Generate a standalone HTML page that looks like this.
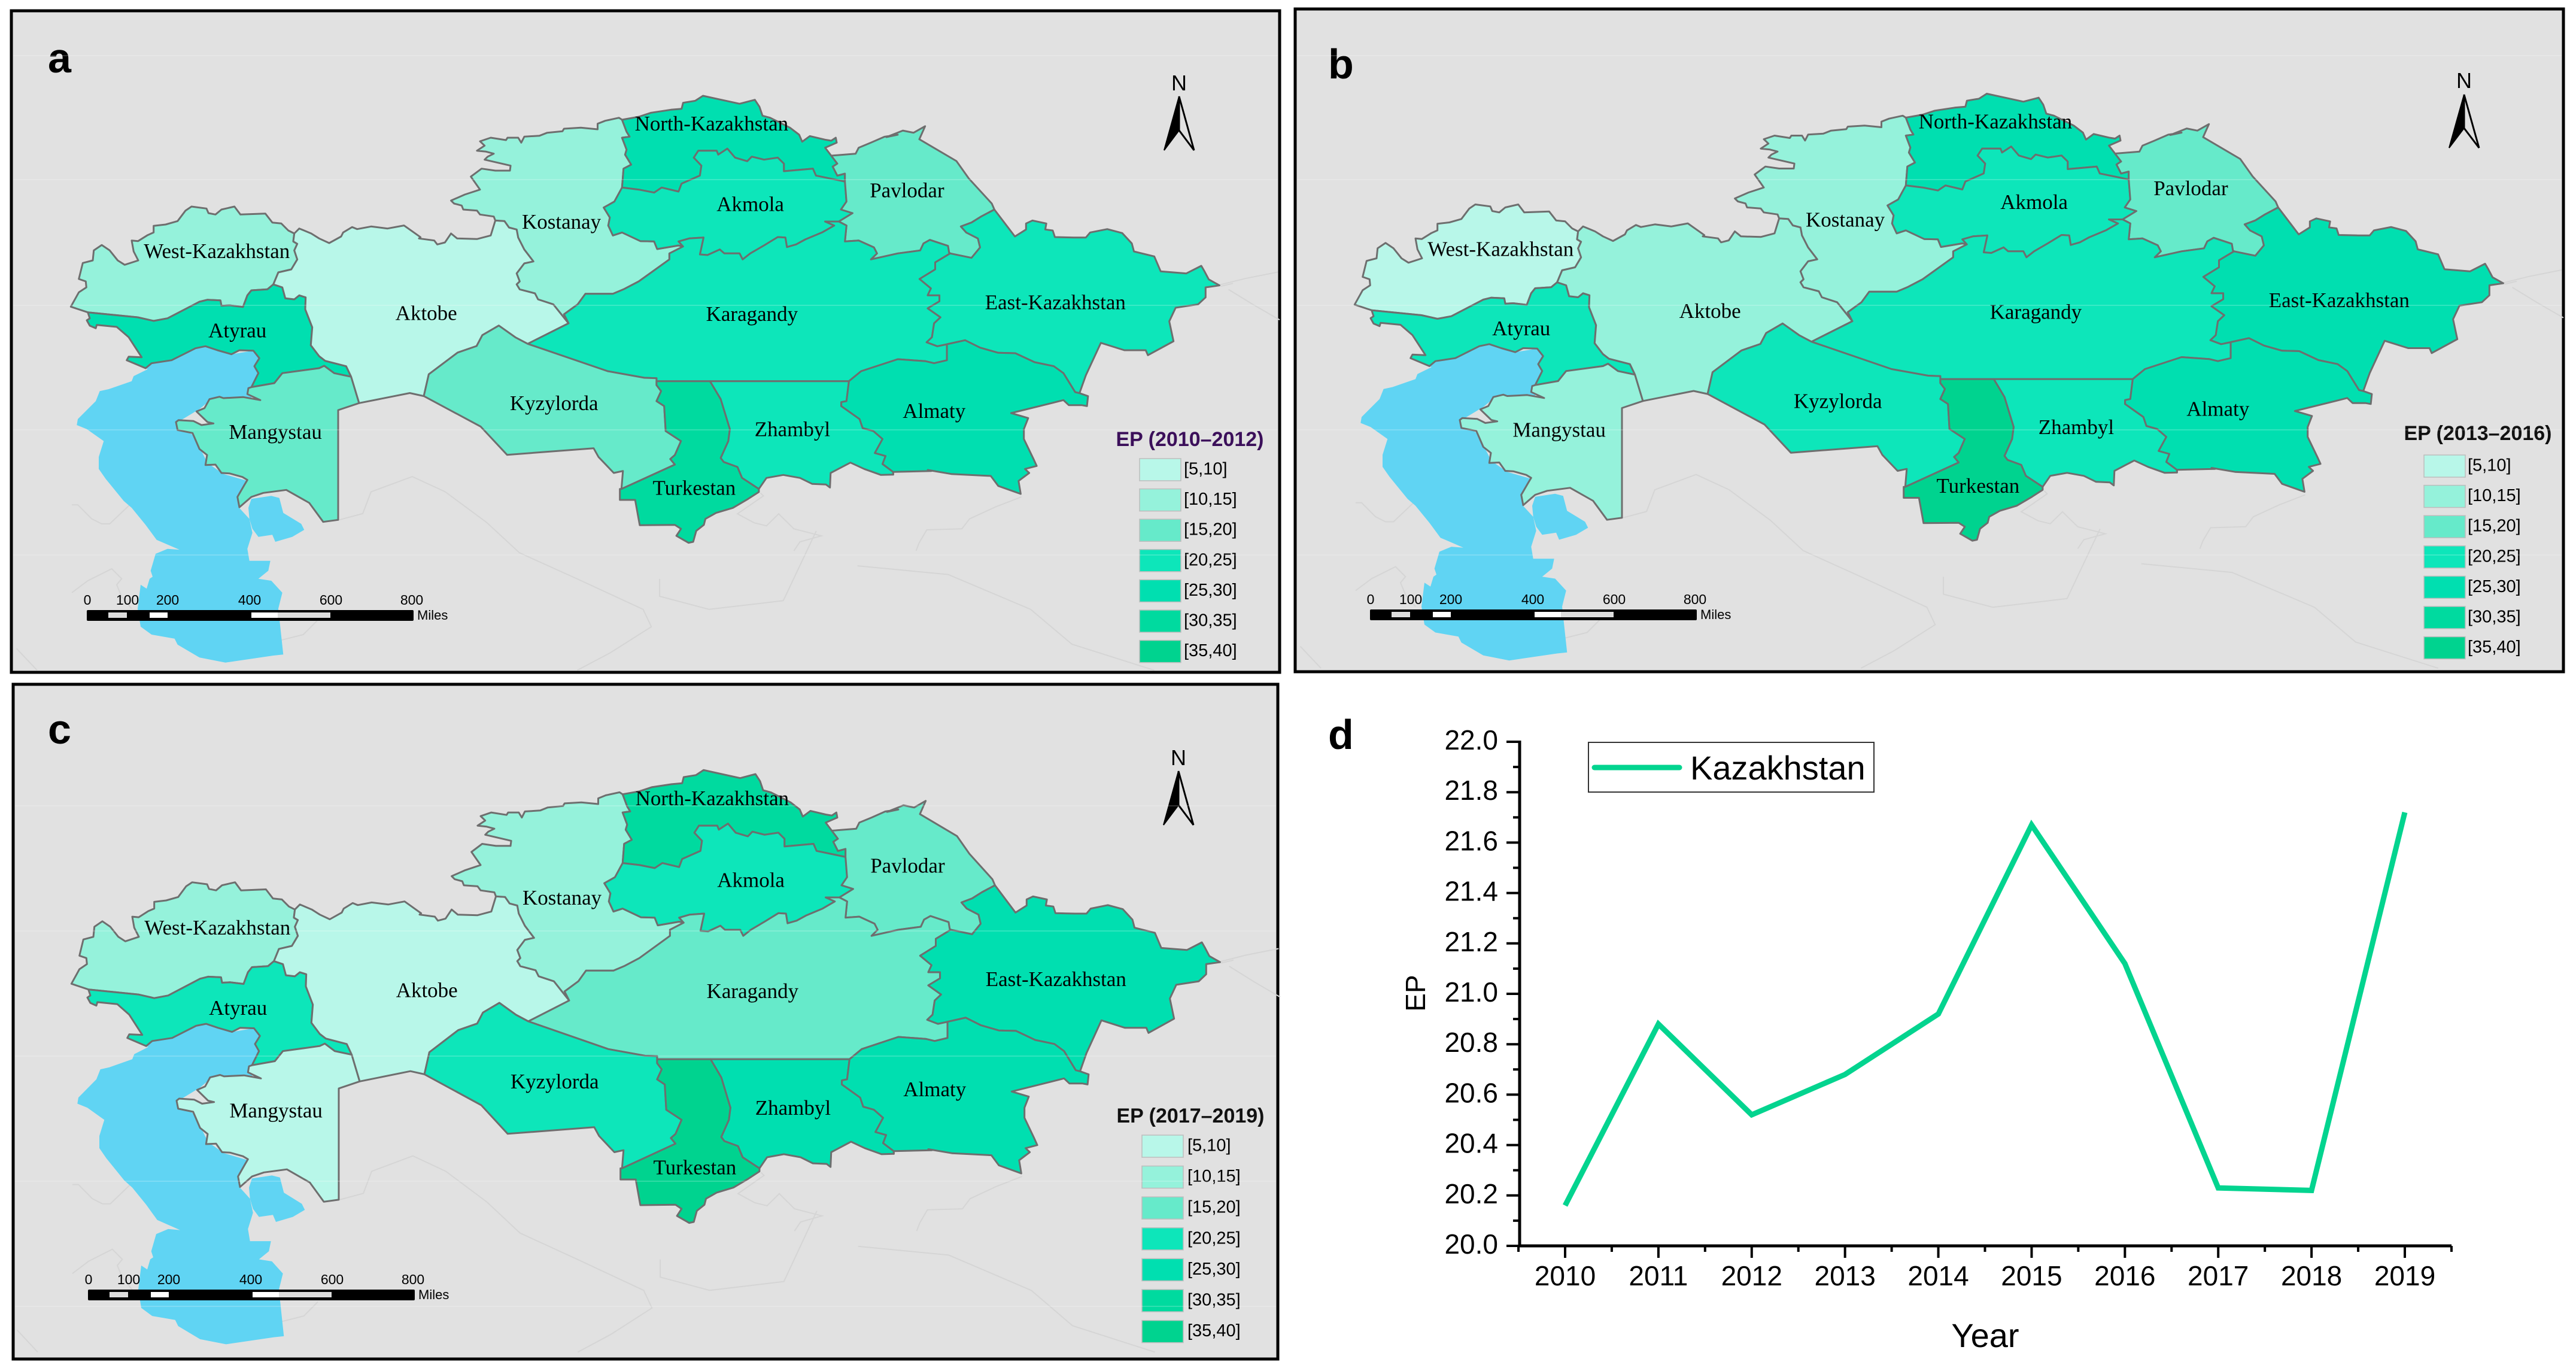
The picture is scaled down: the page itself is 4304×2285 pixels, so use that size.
<!DOCTYPE html>
<html lang="en">
<head>
<meta charset="utf-8">
<title>Kazakhstan EP maps and trend</title>
<style>
html,body{margin:0;padding:0;background:#fff;}
svg{display:block;}
text{font-family:"Liberation Sans",sans-serif;}
.map-label{font-family:"Liberation Serif",serif;font-size:35px;fill:#000;}
</style>
</head>
<body>
<svg id="figure" xmlns="http://www.w3.org/2000/svg" width="4304" height="2285" viewBox="0 0 4304 2285">
  <rect x="0" y="0" width="4304" height="2285" fill="#ffffff"/>
</svg>
<script>
// ---------- Chart data (panel d) ----------
const years = [2010, 2011, 2012, 2013, 2014, 2015, 2016, 2017, 2018, 2019];
const epSeries = [20.16, 20.88, 20.52, 20.68, 20.92, 21.67, 21.12, 20.23, 20.22, 21.72];
const yTicks = [20.0, 20.2, 20.4, 20.6, 20.8, 21.0, 21.2, 21.4, 21.6, 21.8, 22.0];
const seriesName = 'Kazakhstan';

// ---------- Choropleth data (panels a, b, c) ----------
const regionNames = ['West-Kazakhstan','Atyrau','Mangystau','Aktobe','Kostanay','North-Kazakhstan','Akmola','Pavlodar','Karagandy','East-Kazakhstan','Kyzylorda','Zhambyl','Almaty','Turkestan'];
const epPeriodA = [12, 27, 17, 8, 12, 27, 22, 17, 22, 22, 17, 22, 27, 32];
const epPeriodB = [8, 22, 12, 12, 12, 27, 22, 17, 22, 27, 22, 22, 27, 37];
const epPeriodC = [12, 22, 8, 8, 12, 32, 22, 17, 17, 27, 22, 27, 27, 37];
const classLimits = [5, 10, 15, 20, 25, 30, 35, 40];
const classColors = ['#b8f7e9', '#95f2db', '#66eaca', '#0de6ba', '#00dfb0', '#00da9f', '#00d38f'];
const classLabels = ['[5,10]', '[10,15]', '[15,20]', '[20,25]', '[25,30]', '[30,35]', '[35,40]'];
const scaleLabels = ['0', '100', '200', '400', '600', '800'];

// ---------- Base map geometry: shared border arcs traced in panel-a pixels ----------
function tr(fx, fy, a) { const o = []; for (let i = 0; i < a.length; i += 2) o.push(fx(a[i]), fy(a[i + 1])); return o; }
const A = function (a) { return tr(function (x) { return 100 + x / 3; }, function (y) { return 320 + y / 3; }, a); };
const B = function (a) { return tr(function (x) { return 1500 + x / 2.8; }, function (y) { return 340 + y / 3; }, a); };
const C = function (a) { return tr(function (x) { return 120 + x / 3; }, function (y) { return 600 + y / 3; }, a); };
const D = function (a) { return tr(function (x) { return 1000 + x / 1.96; }, function (y) { return 620 + y / 3; }, a); };
const E = function (a) { return tr(function (x) { return 700 + x / 1.96; }, function (y) { return 150 + y / 3; }, a); };
const Z = function (a) { return tr(function (x) { return x * 1.3776; }, function (y) { return y * 0.727; }, a); };
function rev(a) { const o = []; for (let i = a.length - 2; i >= 0; i -= 2) o.push(a[i], a[i + 1]); return o; }

const wN = A([55,577,95,505,133,480,130,450,95,438,115,358,165,345,170,295,210,268,250,295,290,345,325,367,393,345,370,300,360,245,392,248,440,218,470,205,470,172,530,165,590,148,630,95,660,75,735,85,745,108,780,115,810,90,875,75,905,115,1030,110,1065,155,1110,160,1145,195,1175,210]);
const wAk = A([1175,210,1170,250,1190,262,1175,295,1190,340,1160,390,1095,405,1070,465]);
const wAt = A([1070,465,1040,490,960,495,940,520,918,578,850,570,810,572,805,545,740,542,700,552,540,635,470,648,390,630,140,605]);
const w0 = A([140,605,55,577]);
const atCoast = A([140,605,150,635,135,645,150,672,180,685,185,668,285,678,345,730,410,830,345,827,335,845,430,885,460,860,560,845,680,785,730,775,790,795,860,815,900,795,970,797,1000,835,975,875,995,910,960,980]);
const atMang = A([960,980,1075,960,1115,910,1300,885,1325,873,1375,910,1460,928]);
const atAk = A([1070,465,1115,480,1130,535,1175,540,1200,520,1232,530,1230,590,1265,680,1258,770,1300,825,1330,848,1435,875,1460,928]);
const mangEdge = A([1460,928,1500,1060]);
const mangRest = C([1335,255,1335,805,1260,815,1190,720,1075,655,960,670,900,690,840,742,830,690,865,630,880,605,855,590,790,572,750,570,720,528,670,530,678,480,640,450,605,370,530,355,522,315,535,305,610,310,650,330,710,322,680,315,625,262,665,245,690,200,740,188,760,195,860,190,945,205,880,175,885,145]);
const akN = A([1175,210,1200,185,1260,210,1300,235,1350,258,1410,225,1420,205,1465,178,1490,188,1560,175]).concat(Z([470,525,490,518,510,545]), E([0,745,50,755,60,775,85,765,105,720,125,745,190,748,235,730,250,655]));
const akKo = E([250,655,280,658,295,690,320,700,325,740,345,800,375,860,345,870,320,920,330,960,320,975,330,1000,380,1020,390,1050,440,1075,490,1170]);
const akKa = E([490,1170]).concat(Z([640,790]));
const akKy = Z([640,790,625,775,605,748,585,770,578,795,555,810,520,860,514,910]);
const akS = Z([514,910,497,903]);
const kN = E([665,150,655,140,610,155,585,170,585,198,530,190,475,195,470,208,420,215,395,230,345,235,335,265,325,240,290,240,285,252,235,240,200,258,215,280,190,305,220,310,245,320,225,335,215,350,300,380,298,405,250,405,205,395,170,435,200,500,150,525,105,555,115,570,140,580,145,600,190,605,200,625,245,635,250,655]);
const koNK = E([665,150,680,210,690,235,665,240,680,300,675,325,695,375,670,395,665,490]);
const koAkm = E([665,490,640,560,605,590,625,640,620,680,635,730,665,715,725,758,770,760,780,798,850,780,865,785]);
const koKa = E([865,785,820,820,820,850,720,960,670,1000,635,1022,545,1022,520,1075,475,1125,490,1170]);
const nkN1 = E([665,150,720,135,760,115,825,100,860,95,865,65,905,55,930,30,960,40,1050,70,1100,50,1115,85,1125,130,1150,140,1215,190,1245,225,1255,260,1280,232,1330,250,1350,255,1365,240,1368,265,1330,290,1350,330]);
const pavNK = E([1350,330,1370,370,1355,385,1370,430,1395,420,1395,460]);
const nkAk = E([665,490,720,500,770,515,795,490,850,510,860,470,920,430,925,380,900,340,915,305,975,305,980,325,1010,295,1035,340,1075,358,1090,335,1130,350,1175,340,1195,370,1195,408,1290,395,1300,430,1395,460]);
const akmE = E([1395,460,1400,560,1382,600,1420,618,1375,660]);
const akmKa = E([1375,660,1330,660,1360,680,1320,715,1265,750,1235,775,1205,788,1200,740,1175,738,1130,780,1085,820,1060,850,1050,820,1000,820,985,800,945,828,920,825,932,740,885,745,850,760,865,785]);
const kaPav = E([1375,660,1400,680,1395,760,1440,755,1490,790,1500,820,1480,850]).concat(B([0,250,105,235,120,200,150,182,235,212,240,245,245,250]));
const pavN = E([1350,330,1430,320,1440,290,1480,265,1525,235,1568,225]).concat(Z([1075,315,1095,300,1108,305,1122,290,1115,320,1160,370,1175,410]), B([440,0,452,30]));
const pavEa = B([452,30,390,65,345,95,295,115,320,145,375,175,385,220,345,272,245,250]);
const eaN = B([452,30,548,165,600,130,600,100,630,85,695,100,690,130,725,135,735,168,825,170,880,170,900,145,980,128,1050,148,1095,200,1105,240,1200,265,1230,340,1350,350,1420,312,1435,340,1455,380,1505,410,1440,420,1440,470,1405,505,1300,522,1270,590,1290,690,1170,760,1160,735,1060,735,950,698,880,860,850,950]);
const eaAl = B([850,950,830,945,775,850,730,815,640,795,550,750,470,748,385,722,315,685,230,705]);
const eaKa = B([245,250,175,295,175,330,102,378,155,425,140,460,195,460,195,490,140,525,200,570,170,600,160,670,135,695,185,715,230,705]);
const kaAl = B([230,705,230,785,170,800,130,790,0,780]).concat(D([860,0,820,50]));
const kyKa = Z([640,790]).concat(D([30,0,150,33,190,35,190,50]));
const segTu = D([190,50,365,50]);
const segZh = D([365,50,820,50]);
const kyTu = D([190,50,190,70,205,100,190,150,215,175,220,300,270,350,250,420,235,440,250,468,75,590]);
const kyS = D([75,590,80,500,50,510,0,430]).concat(Z([720,1030,615,1045,583,980,514,910]));
const tuZh = D([365,50,400,140,430,290,425,350,400,435,410,455,455,480,470,535,525,590]);
const tuS = D([525,590,525,605,490,640,440,685,385,710,350,740,345,770,320,800,310,855,295,860,255,825,270,790,250,770,135,772,120,645,70,645,70,590,75,590]);
const zhS = D([525,590,550,535,605,520,660,535,700,565,745,568,758,583,760,510,825,458,870,490,925,520,965,518]);
const zhAl = D([820,50,812,150,795,155,795,175,855,240,865,285,900,300,930,340,905,410,940,425,930,465,965,505,965,518]);
const alS = B([850,950,890,965,885,1015,860,1010,800,1010,775,985,720,1000,530,1050,610,1075,590,1130,590,1180,635,1280,650,1315,595,1330,615,1350,565,1390,575,1455,470,1415,435,1365,250,1355,140,1335]).concat(D([1090,500,965,505,965,518]));

const outlines = {
 'West-Kazakhstan': wN.concat(wAk, wAt, w0),
 'Atyrau': atCoast.concat(atMang, rev(atAk), wAt),
 'Mangystau': atMang.concat(mangEdge, mangRest),
 'Aktobe': akN.concat(akKo, akKa, akKy, akS, rev(mangEdge), rev(atAk), rev(wAk)),
 'Kostanay': kN.concat(akKo, rev(koKa), rev(koAkm), rev(koNK)),
 'North-Kazakhstan': nkN1.concat(pavNK, rev(nkAk), rev(koNK)),
 'Akmola': nkAk.concat(akmE, akmKa, rev(koAkm)),
 'Pavlodar': rev(pavNK).concat(pavN, pavEa, rev(kaPav), rev(akmE)),
 'Karagandy': koKa.concat(akKa, kyKa, segTu, segZh, rev(kaAl), rev(eaKa), rev(kaPav), akmKa),
 'East-Kazakhstan': eaN.concat(eaAl, rev(eaKa), rev(pavEa)),
 'Kyzylorda': rev(akKy).concat(kyKa, kyTu, kyS),
 'Zhambyl': segZh.concat(zhAl, rev(zhS), rev(tuZh)),
 'Almaty': rev(kaAl).concat(rev(eaAl), alS, rev(zhAl)),
 'Turkestan': segTu.concat(tuZh, tuS, rev(kyTu))
};
const caspianOutline = A([430,885,460,860,560,845,680,785,730,775,860,815,970,797,1000,835,975,875,995,910,960,980]).concat(C([900,200,700,200,640,250,540,310,525,340,610,380,680,520,760,575,880,610,835,740,890,800,905,870,880,950,890,1010,995,1010,985,1060,935,1100,1000,1110,1055,1170,1035,1250,1060,1480,1010,1485,770,1520,640,1495,530,1430,515,1400,400,1380,345,1340,330,1250,345,1130,375,1150,390,1100,405,1090,395,1060,420,975,480,950,540,955,425,905,370,830,300,745,260,710,170,600,135,550,135,490,160,410,75,350,25,330,30,300,120,210,140,160,185,150,300,110,310,85,380,50]));
const bayOutline = C([885,745,900,700,1000,685,1040,695,1060,770,1150,825,1165,855,1105,890,1020,915,1005,880,935,890,905,850,890,800]);
const neighbourLines = [
 D([530,610,540,625,455,715,510,760,550,775,590,715,640,790,730,825,660,855,640,900]),
 D([1385,630,1300,680,1215,740,1190,790,1075,795,1050,860,1040,900]),
 C([0,730,30,730,100,800,150,825,190,825,290,730]),
 C([0,1170,80,1110,200,1050,250,1100,225,1130,250,1190,300,1250]),
 C([1040,1410,1160,1380,1230,1310]),
 B([1510,415,1568,400]),
 Z([1478,655,1510,640,1550,625]), Z([1490,665,1520,700,1552,735]),
 Z([410,1195,440,1180,450,1130,500,1095,540,1130,590,1200,630,1270,700,1330,780,1400,790,1440,740,1500,700,1540]),
 Z([800,1330,800,1370,860,1400,950,1380,990,1220]),
 Z([1040,1300,1150,1320,1250,1400,1300,1480,1400,1540]),
 Z([20,1490,45,1540])
];
const labelCentres = {
 'West-Kazakhstan':[263,578],'Atyrau':[288,760],'Mangystau':[334,993],'Aktobe':[517,720],'Kostanay':[681,510],
 'North-Kazakhstan':[863,285],'Akmola':[910,470],'Pavlodar':[1100,438],'Karagandy':[912,722],'East-Kazakhstan':[1280,695],
 'Kyzylorda':[672,927],'Zhambyl':[961,987],'Almaty':[1133,945],'Turkestan':[842,1122]
};

// ---------- Helpers ----------
const NS = 'http://www.w3.org/2000/svg';
const root = document.getElementById('figure');
function mk(tag, parent, props, txt) {
  const el = document.createElementNS(NS, tag);
  for (const k in props) el.setAttribute(k, props[k]);
  if (txt !== undefined) el.textContent = txt;
  parent.appendChild(el);
  return el;
}
function colorFor(v) {
  for (let i = 0; i < classColors.length; i++) {
    if (v >= classLimits[i] && v < classLimits[i + 1]) return classColors[i];
  }
  return classColors[classColors.length - 1];
}
function px(p, x) { return x + p.dx; }
function py(p, y) { return y * p.ky + p.dy; }
function ptsOf(arr, p) {
  const out = [];
  for (let i = 0; i < arr.length; i += 2) {
    out.push(px(p, arr[i]).toFixed(1) + ',' + py(p, arr[i + 1]).toFixed(1));
  }
  return out.join(' ');
}

// ---------- Map panels ----------
const panels = [
 {key:'a', values:epPeriodA, title:'EP (2010\u20132012)', titleFill:'#3b0f5a',
  frame:[19,18,2138,1123], letter:[80,121], dx:0, dy:0, ky:1,
  seams:[93,300,510,718,927],
  north:[1970,161,251,138], legend:{sx:1904, sy:766, pitch:50.6, sh:37, tx:1978, titleX:1988, titleY:733}, bar:[0,0]},
 {key:'b', values:epPeriodB, title:'EP (2013\u20132016)', titleFill:'#111111',
  frame:[2164,15,4283,1122], letter:[2219,131], dx:2145, dy:-3.5, ky:1,
  seams:[93,300,510,718,927],
  north:[4117,158,247,134], legend:{sx:4050, sy:760, pitch:50.6, sh:37, tx:4123, titleX:4140, titleY:723}, bar:[2144,-1]},
 {key:'c', values:epPeriodC, title:'EP (2017\u20132019)', titleFill:'#111111',
  frame:[22,1143,2135,2270], letter:[80,1242], dx:1, dy:1124.1, ky:1.0132,
  seams:[1346,1555,1764,1973,2182],
  north:[1969,1288,1378,1265], legend:{sx:1908, sy:1896, pitch:51.6, sh:37, tx:1984, titleX:1989, titleY:1863}, bar:[2,1135]}
];

panels.forEach(function (p) {
  const g = mk('g', root, {});
  
  

  const f = p.frame;
  const frame = mk('rect', g, {x:f[0], y:f[1], width:f[2]-f[0], height:f[3]-f[1], fill:'#e1e1e1', stroke:'#000', 'stroke-width':5});
  
  

  neighbourLines.forEach(function (l) {
    const n = mk('polyline', g, {points:ptsOf(l, p), fill:'none', stroke:'#d5d5d5', 'stroke-width':2});
    
    
  });

  const cas = mk('polygon', g, {points:ptsOf(caspianOutline, p), fill:'#60d4f3'});
  
  
  const bay = mk('polygon', g, {points:ptsOf(bayOutline, p), fill:'#60d4f3'});
  
  

  regionNames.forEach(function (name, i) {
    const r = mk('polygon', g, {points:ptsOf(outlines[name], p), fill:colorFor(p.values[i]), stroke:'#6e6e6e', 'stroke-width':3, 'stroke-linejoin':'round'});
    
    
  });

  regionNames.forEach(function (name) {
    const c = labelCentres[name];
    const t = mk('text', g, {x:px(p, c[0]*1.3776).toFixed(1), y:(py(p, c[1]*0.727)+11).toFixed(1), 'text-anchor':'middle', class:'map-label'}, name);
    
    
  });

  // panel letter
  const letter = mk('text', g, {x:p.letter[0], y:p.letter[1], 'font-size':70, 'font-weight':'bold', fill:'#000'}, p.key);
  
  

  // north arrow
  const na = p.north;
  const nLabel = mk('text', g, {x:na[0], y:na[3]+13, 'text-anchor':'middle', 'font-size':36, fill:'#000'}, 'N');
  
  
  const nLeft = mk('polygon', g, {points:[na[0],na[1],na[0]-25,na[2],na[0],na[1]+(na[2]-na[1])*0.63].join(' '), fill:'#000', stroke:'#000', 'stroke-width':2});
  
  
  const nRight = mk('polygon', g, {points:[na[0],na[1],na[0]+25,na[2],na[0],na[1]+(na[2]-na[1])*0.63].join(' '), fill:'#e1e1e1', stroke:'#000', 'stroke-width':3});
  
  

  // scale bar
  const bx = p.bar[0], by = p.bar[1];
  const sb = mk('rect', g, {x:145+bx, y:1019+by, width:546, height:18, fill:'#000', rx:2});
  
  
  [[181,31,'#dddddd'],[250,30,'#ffffff'],[420,44,'#ffffff'],[464,88,'#dddddd']].forEach(function (s) {
    const seg = mk('rect', g, {x:s[0]+bx, y:1023+by, width:s[1], height:9, fill:s[2]});
    
    
  });
  const scaleX = [146, 213, 280, 417, 553, 688];
  scaleLabels.forEach(function (lab, i) {
    const st = mk('text', g, {x:scaleX[i]+bx, y:1010+by, 'text-anchor':'middle', 'font-size':23, fill:'#000'}, lab);
    
    
  });
  const miles = mk('text', g, {x:697+bx, y:1035+by, 'font-size':22, fill:'#000'}, 'Miles');
  
  

  // legend
  const L = p.legend;
  const lt = mk('text', g, {x:L.titleX, y:L.titleY+12, 'text-anchor':'middle', 'font-size':34, 'font-weight':'bold', fill:p.titleFill}, p.title);
  
  
  classLabels.forEach(function (lab, i) {
    const y = L.sy + i * L.pitch;
    const sw = mk('rect', g, {x:L.sx, y:y, width:69, height:L.sh, fill:classColors[i], stroke:'#bdbdbd', 'stroke-width':1.5});
    
    
    const tx = mk('text', g, {x:L.tx, y:y+L.sh/2+8, 'font-size':29, fill:'#000'}, lab);
    
    
  });

  // faint tile seams
  p.seams.forEach(function (yy) {
    const tl = mk('line', g, {x1:f[0]+3, x2:f[2]-3, y1:yy, y2:yy, stroke:'rgba(255,255,255,0.25)', 'stroke-width':1.5});
    
    
  });
});

// ---------- Line chart (panel d) ----------
const plotLeft = 2539, plotBottom = 2081, plotTop = 1239, plotRight = 4096;
function xScale(year) { return 2615 + (year - years[0]) * (4018 - 2615) / (years[years.length - 1] - years[0]); }
function yScale(v) { return plotBottom - (v - 20) * (plotBottom - plotTop) / 2; }

const chart = mk('g', root, {});



const dLetter = mk('text', chart, {x:2219, y:1251, 'font-size':70, 'font-weight':'bold', fill:'#000'}, 'd');



const yAxis = mk('line', chart, {x1:plotLeft, x2:plotLeft, y1:plotTop-2, y2:plotBottom+2, stroke:'#000', 'stroke-width':5});


const xAxis = mk('line', chart, {x1:plotLeft-2, x2:plotRight, y1:plotBottom, y2:plotBottom, stroke:'#000', 'stroke-width':5});



yTicks.forEach(function (v, i) {
  const y = yScale(v);
  const tk = mk('line', chart, {x1:plotLeft-22, x2:plotLeft, y1:y, y2:y, stroke:'#000', 'stroke-width':4});
  
  
  const lb = mk('text', chart, {x:2503, y:y+13, 'text-anchor':'end', 'font-size':46, fill:'#000'}, v.toFixed(1));
  
  
  if (i < yTicks.length - 1) {
    const ym = yScale((v + yTicks[i + 1]) / 2);
    const mt = mk('line', chart, {x1:plotLeft-11, x2:plotLeft, y1:ym, y2:ym, stroke:'#000', 'stroke-width':4});
    
    
  }
});

years.forEach(function (yr) {
  const x = xScale(yr);
  const tk = mk('line', chart, {x1:x, x2:x, y1:plotBottom, y2:plotBottom+20, stroke:'#000', 'stroke-width':4});
  
  
  const lb = mk('text', chart, {x:x, y:2147, 'text-anchor':'middle', 'font-size':46, fill:'#000'}, String(yr));
  
  
});
years.concat([years[years.length - 1] + 1]).forEach(function (yr) {
  const xm = xScale(yr - 0.5);
  const mt = mk('line', chart, {x1:xm, x2:xm, y1:plotBottom, y2:plotBottom+10, stroke:'#000', 'stroke-width':4});
  
  
});

const linePts = years.map(function (yr, i) { return xScale(yr).toFixed(1) + ',' + yScale(epSeries[i]).toFixed(1); }).join(' ');
const epLine = mk('polyline', chart, {points:linePts, fill:'none', stroke:'#03d48f', 'stroke-width':9, 'stroke-linejoin':'miter'});



const xTitle = mk('text', chart, {x:3317, y:2250, 'text-anchor':'middle', 'font-size':56, fill:'#000'}, 'Year');


const yTitle = mk('text', chart, {x:0, y:0, 'text-anchor':'middle', 'font-size':46, fill:'#000', transform:'translate(2381 1659) rotate(-90)'}, 'EP');



const legBox = mk('rect', chart, {x:2654, y:1240, width:477, height:83, fill:'#ffffff', stroke:'#333', 'stroke-width':2});


const legLine = mk('line', chart, {x1:2664, x2:2806, y1:1282, y2:1282, stroke:'#03d48f', 'stroke-width':9, 'stroke-linecap':'round'});


const legText = mk('text', chart, {x:2824, y:1302, 'font-size':56, fill:'#000'}, seriesName);


</script>
</body>
</html>
